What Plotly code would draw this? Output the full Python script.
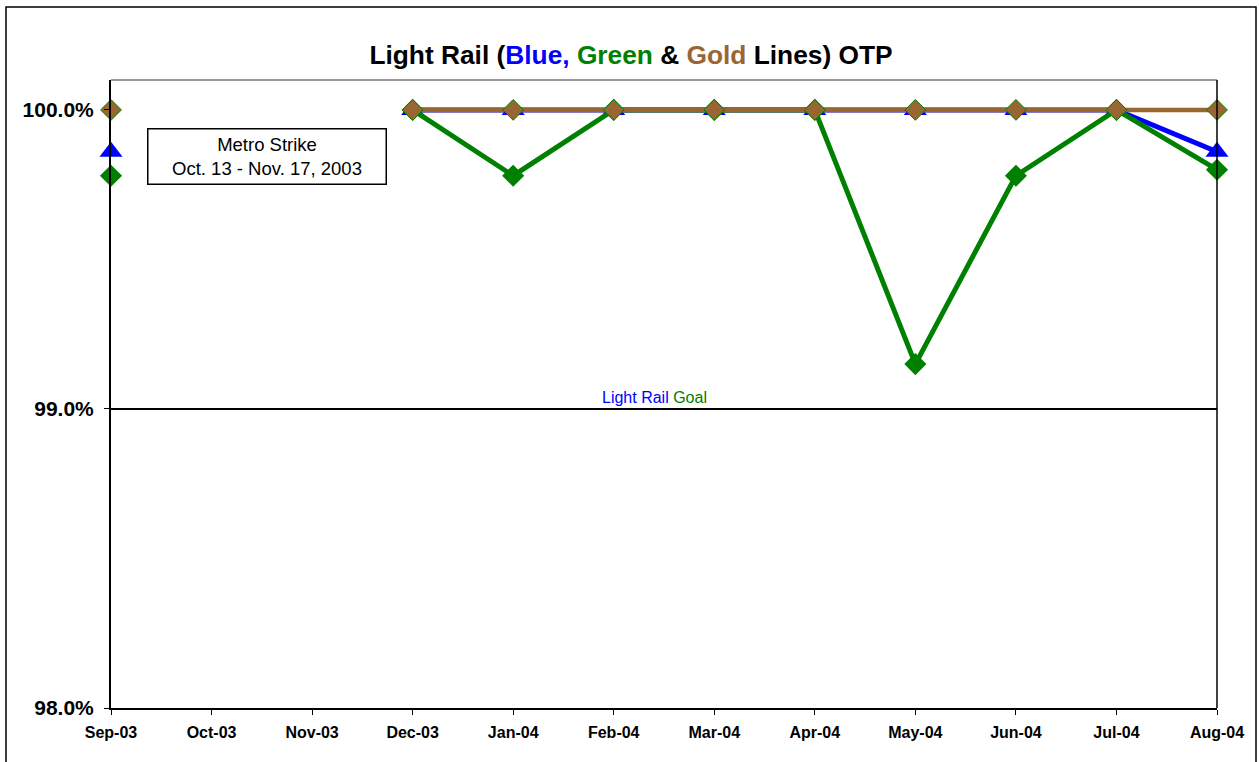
import plotly.graph_objects as go

months = ["Sep-03", "Oct-03", "Nov-03", "Dec-03", "Jan-04", "Feb-04", "Mar-04",
          "Apr-04", "May-04", "Jun-04", "Jul-04", "Aug-04"]
blue = [99.86, None, None, 100.0, 100.0, 100.0, 100.0, 100.0, 100.0, 100.0, 100.0, 99.86]
green = [99.78, None, None, 100.0, 99.78, 100.0, 100.0, 100.0, 99.15, 99.78, 100.0, 99.80]
gold = [100.0, None, None, 100.0, 100.0, 100.0, 100.0, 100.0, 100.0, 100.0, 100.0, 100.0]
goal = [99.0] * len(months)
y_ticks = [98.0, 99.0, 100.0]
y_tick_text = ["98.0%", "99.0%", "100.0%"]

BLUE = "#0000FF"
GREEN = "#008000"
GOLD = "#996633"
FONT = "Liberation Sans, Arial, sans-serif"

fig = go.Figure()
fig.add_trace(go.Scatter(x=months, y=goal, mode="lines",
                         line=dict(color="black", width=2), hoverinfo="skip",
                         cliponaxis=False))
fig.add_trace(go.Scatter(x=months, y=blue, mode="lines+markers", name="Blue",
                         line=dict(color=BLUE, width=5),
                         marker=dict(symbol="triangle-up", size=20, color=BLUE),
                         cliponaxis=False))
fig.add_trace(go.Scatter(x=months, y=green, mode="lines+markers", name="Green",
                         line=dict(color=GREEN, width=5),
                         marker=dict(symbol="diamond", size=17, color=GREEN),
                         cliponaxis=False))
fig.add_trace(go.Scatter(x=months, y=gold, mode="lines+markers", name="Gold",
                         line=dict(color=GOLD, width=4.5),
                         marker=dict(symbol="diamond", size=16, color=GOLD,
                                     line=dict(color=GREEN, width=1)),
                         cliponaxis=False))

fig.update_layout(
    width=1259, height=762,
    margin=dict(l=111, r=42, t=80, b=54),
    paper_bgcolor="white", plot_bgcolor="white",
    showlegend=False,
    font=dict(family=FONT, color="black"),
    title=dict(
        text=("<b>Light Rail (<span style='color:#0000FF'>Blue,</span> "
              "<span style='color:#008000'>Green</span> &amp; "
              "<span style='color:#996633'>Gold</span> Lines) OTP</b>"),
        x=631 / 1259, xanchor="center",
        y=1 - 55 / 762, yanchor="middle",
        font=dict(size=26.3, family=FONT, color="black"),
    ),
    xaxis=dict(
        type="category", categoryorder="array", categoryarray=months,
        range=[0, 11], showgrid=False, zeroline=False,
        showline=True, linecolor="black", linewidth=2, mirror=False,
        ticks="outside", ticklen=5, tickcolor="black", ticklabelstandoff=4,
        tickfont=dict(size=16, family=FONT),
        tickprefix="<b>", ticksuffix="</b>",
    ),
    yaxis=dict(
        range=[98.0, 100.1], showgrid=False, zeroline=False,
        showline=True, linecolor="black", linewidth=2,
        ticks="outside", ticklen=5, tickcolor="black", ticklabelstandoff=6,
        tickvals=y_ticks, ticktext=["<b>" + t + "</b>" for t in y_tick_text],
        tickfont=dict(size=21, family=FONT),
    ),
)

# plot area top and right borders
fig.add_shape(type="line", xref="paper", yref="paper", x0=0, x1=1, y0=1, y1=1,
              line=dict(color="#333333", width=1))
fig.add_shape(type="line", xref="paper", yref="paper", x0=1, x1=1, y0=0, y1=1,
              line=dict(color="black", width=1.5))
# outer chart border
fig.add_shape(type="rect", xref="paper", yref="paper",
              x0=(6 - 111) / 1106, x1=(1256 - 111) / 1106,
              y0=-0.2, y1=(708 - 7) / 628,
              line=dict(color="black", width=1.5), layer="below")

fig.add_annotation(xref="paper", yref="paper",
                   x=(267 - 111) / 1106, y=(708 - 156) / 628,
                   xanchor="center", yanchor="middle",
                   width=233, height=50,
                   text="Metro Strike<br>Oct. 13 - Nov. 17, 2003",
                   showarrow=False, font=dict(size=18.5, color="black", family=FONT),
                   bordercolor="black", borderwidth=1.5, borderpad=2,
                   bgcolor="white", align="center", valign="middle")
fig.add_annotation(xref="paper", yref="y", x=(654 - 111) / 1106, y=99.0,
                   xanchor="center", yanchor="bottom", yshift=1,
                   text="<span style='color:#0000FF'>Light Rail</span> "
                        "<span style='color:#008000'>Goal</span>",
                   showarrow=False, font=dict(size=16, family=FONT))

fig.write_html("out.html", config={"displayModeBar": False},
               post_script="document.body.style.margin='0';document.body.style.padding='0';")
